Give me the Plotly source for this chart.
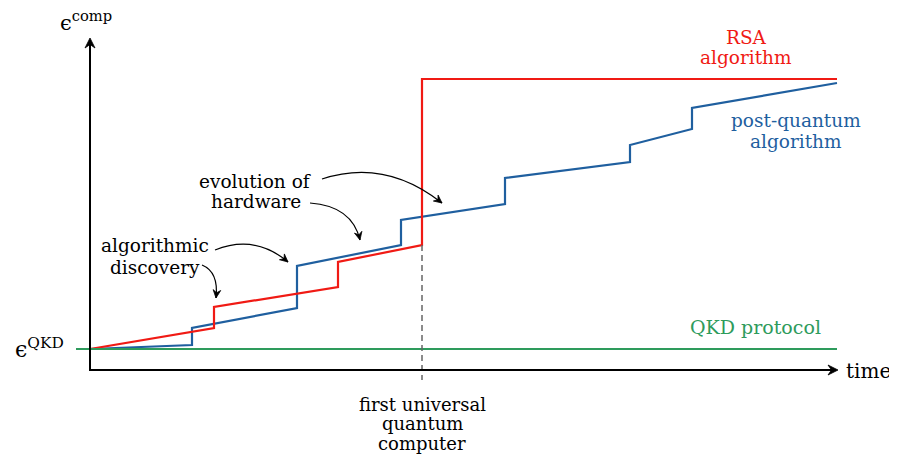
import plotly.graph_objects as go

# ---- data (arbitrary units: time t, security parameter epsilon) ----
rsa_t = [0.0, 12.4, 12.4, 24.8, 24.8, 33.2, 33.2, 74.7]
rsa_eps = [2.1, 4.2, 6.3, 8.3, 10.8, 12.5, 29.1, 29.1]

pq_t = [0.0, 10.2, 10.2, 20.7, 20.7, 31.1, 31.1, 41.5, 41.5, 54.0, 54.0, 60.2, 60.2, 74.7]
pq_eps = [2.1, 2.5, 4.2, 6.2, 10.4, 12.5, 15.0, 16.6, 19.2, 20.8, 22.5, 24.1, 26.2, 28.7]

qkd_t = [-1.4, 74.7]
qkd_eps = [2.1, 2.1]

quantum_computer_t = 33.2
dash_eps = [12.5, -1.0]

RED = "#f01a14"
BLUE = "#1f5f9f"
GREEN = "#2e9b5c"
FONT = "DejaVu Serif"

WIN_W, WIN_H = 897, 454
OFF = 8  # page body margin
W, H = WIN_W - OFF, WIN_H - OFF
X0, Y0, S = 90.0, 370.0, 10.0  # window pixel position of the origin and px per unit


def tx(px):
    return (px - X0) / S


def ty(py):
    return (Y0 - py) / S


fig = go.Figure()
fig.add_trace(go.Scatter(x=pq_t, y=pq_eps, mode="lines",
                         line=dict(color=BLUE, width=2.2), hoverinfo="skip"))
fig.add_trace(go.Scatter(x=rsa_t, y=rsa_eps, mode="lines",
                         line=dict(color=RED, width=2.2), hoverinfo="skip"))
fig.add_trace(go.Scatter(x=qkd_t, y=qkd_eps, mode="lines",
                         line=dict(color=GREEN, width=2.2), hoverinfo="skip"))
fig.add_trace(go.Scatter(x=[quantum_computer_t, quantum_computer_t], y=dash_eps, mode="lines",
                         line=dict(color="#666666", width=1.5, dash="6px,4px"), hoverinfo="skip"))

shapes = []
annotations = []


def arrowhead(tip, frm, length, half):
    """Filled stealth-like arrowhead at pixel point tip, pointing away from frm."""
    dx, dy = tip[0] - frm[0], tip[1] - frm[1]
    n = (dx * dx + dy * dy) ** 0.5
    ux, uy = dx / n, dy / n
    px_, py_ = -uy, ux
    bx, by = tip[0] - length * ux, tip[1] - length * uy
    a = (bx + half * px_, by + half * py_)
    b = (bx - half * px_, by - half * py_)
    m = (tip[0] - 0.65 * length * ux, tip[1] - 0.65 * length * uy)
    pts = [tip, a, m, b]
    path = "M " + " L ".join("{} {}".format(tx(p[0]), ty(p[1])) for p in pts) + " Z"
    shapes.append(dict(type="path", path=path, xref="x", yref="y",
                       fillcolor="black", line=dict(color="black", width=0.8)))


# axes with arrows
shapes.append(dict(type="line", xref="x", yref="y", x0=tx(89), y0=0, x1=tx(832), y1=0,
                   line=dict(color="black", width=2)))
arrowhead((838, Y0), (820, Y0), 10, 5)
shapes.append(dict(type="line", xref="x", yref="y", x0=0, y0=ty(371), x1=0, y1=ty(44),
                   line=dict(color="black", width=2)))
arrowhead((X0, 38), (X0, 60), 10, 5)


def label(text, px, py, size, color="black"):
    annotations.append(dict(x=(px - OFF) / W, y=1 - (py - OFF) / H, xref="paper", yref="paper", text=text,
                            showarrow=False, xanchor="center", yanchor="middle",
                            font=dict(family=FONT, size=size, color=color)))


label("ϵ<sup>comp</sup>", 86, 21, 21)
label("ϵ<sup>QKD</sup>", 39, 348, 22)
label("time", 868, 371, 20)
label("RSA", 746, 38, 18.5, RED)
label("algorithm", 746, 58, 18.5, RED)
label("post-quantum", 796, 120, 18.5, BLUE)
label("algorithm", 796, 141, 18.5, BLUE)
label("QKD protocol", 755, 327, 19, GREEN)
label("evolution of", 255, 181, 18.5)
label("hardware", 256, 201, 18.5)
label("algorithmic", 155, 245, 18.5)
label("discovery", 155, 267, 18.5)
label("first universal", 422, 404, 18)
label("quantum", 422, 423, 18)
label("computer", 422, 443, 18)

# curved annotation arrows (pixel geometry -> data coords)
curves = [
    ((322, 179), (385, 158), (442, 203)),
    ((310, 203), (352, 206), (360, 240)),
    ((215, 250), (255, 234), (288, 262)),
    ((202, 265), (219, 272), (216, 298)),
]
for (p0, c, p1) in curves:
    path = "M {} {} Q {} {} {} {}".format(tx(p0[0]), ty(p0[1]), tx(c[0]), ty(c[1]), tx(p1[0]), ty(p1[1]))
    shapes.append(dict(type="path", path=path, xref="x", yref="y",
                       line=dict(color="black", width=1.2)))
    arrowhead(p1, c, 8, 3.8)

fig.update_layout(
    width=W, height=H, autosize=False,
    margin=dict(l=0, r=0, t=0, b=0),
    paper_bgcolor="white", plot_bgcolor="white",
    showlegend=False,
    xaxis=dict(range=[tx(OFF), tx(WIN_W)], visible=False, fixedrange=True),
    yaxis=dict(range=[ty(WIN_H), ty(OFF)], visible=False, fixedrange=True),
    annotations=annotations,
    shapes=shapes,
)

fig.write_html("out.html")
